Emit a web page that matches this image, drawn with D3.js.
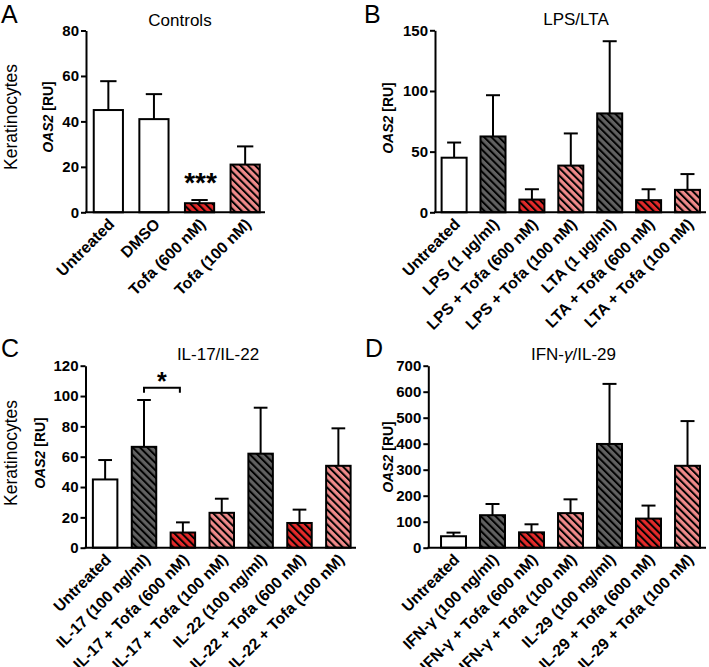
<!DOCTYPE html>
<html><head><meta charset="utf-8">
<script src="https://cdn.jsdelivr.net/npm/d3@7"></script>
<style>
html,body{margin:0;padding:0;background:#fff;}
text{font-family:"Liberation Sans",Arial,Helvetica,sans-serif;}
</style></head>
<body>
<svg id="chart" width="709" height="667"></svg>
<script>
// ---------- data ----------
const catsA = ["Untreated","DMSO","Tofa (600 nM)","Tofa (100 nM)"];
const meanA = [45, 41, 4, 21];
const errA  = [12.7, 11, 1.4, 8];
const typeA = ["white","white","red","pink"];
const ticksA = [0,20,40,60,80];

const catsB = ["Untreated","LPS (1 µg/ml)","LPS + Tofa (600 nM)","LPS + Tofa (100 nM)","LTA (1 µg/ml)","LTA + Tofa (600 nM)","LTA + Tofa (100 nM)"];
const meanB = [45, 62.5, 10.5, 38.5, 81.5, 10, 18.5];
const errB  = [12.5, 34, 8.5, 26.5, 59.5, 9, 13];
const typeB = ["white","dark","red","pink","dark","red","pink"];
const ticksB = [0,50,100,150];

const catsC = ["Untreated","IL-17 (100 ng/ml)","IL-17 + Tofa (600 nM)","IL-17 + Tofa (100 nM)","IL-22 (100 ng/ml)","IL-22 + Tofa (600 nM)","IL-22 + Tofa (100 nM)"];
const meanC = [45, 66.5, 10, 23, 62, 16.3, 54];
const errC  = [12.8, 30.9, 6.7, 9.3, 30.3, 8.8, 24.7];
const typeC = ["white","dark","red","pink","dark","red","pink"];
const ticksC = [0,20,40,60,80,100,120];

const catsD = ["Untreated","IFN-γ (100 ng/ml)","IFN-γ + Tofa (600 nM)","IFN-γ + Tofa (100 nM)","IL-29 (100 ng/ml)","IL-29 + Tofa (600 nM)","IL-29 + Tofa (100 nM)"];
const meanD = [44, 125, 59, 133, 399, 112, 315];
const errD  = [14, 43, 31, 53, 231, 50, 172];
const typeD = ["white","dark","red","pink","dark","red","pink"];
const ticksD = [0,100,200,300,400,500,600,700];

const fillColors = {white:"#ffffff", dark:"#616161", red:"#e42a2a", pink:"#f08a8a"};

// ---------- drawing ----------
const svg = d3.select("#chart");
const defs = svg.append("defs");
["dark","red","pink"].forEach(k=>{
  const p = defs.append("pattern").attr("id","hatch-"+k)
    .attr("patternUnits","userSpaceOnUse").attr("width",5.2).attr("height",5.2)
    .attr("patternTransform","rotate(-45)");
  p.append("rect").attr("width",5.2).attr("height",5.2).attr("fill",fillColors[k]);
  p.append("line").attr("x1",1).attr("y1",0).attr("x2",1).attr("y2",5.2)
    .attr("stroke","#000").attr("stroke-width",2);
});
const fillFor = t => t==="white" ? "#fff" : "url(#hatch-"+t+")";

function panel(cfg){
  const g = svg.append("g");
  const y = d3.scaleLinear().domain([0, cfg.ticks[cfg.ticks.length-1]]).range([cfg.y0, cfg.yTop]);
  const x = d3.scaleBand().domain(cfg.cats).range([cfg.ax, cfg.xEnd])
    .paddingInner(cfg.pin).paddingOuter(cfg.pout).align(cfg.align);
  const bw = x.bandwidth();

  cfg.cats.forEach((c,i)=>{
    const cx = x(c)+bw/2;
    const top = y(cfg.mean[i]+cfg.err[i]);
    g.append("line").attr("x1",cx).attr("x2",cx)
      .attr("y1",y(cfg.mean[i])).attr("y2",top)
      .attr("stroke","#000").attr("stroke-width",2);
    g.append("line").attr("x1",cx-bw*0.28).attr("x2",cx+bw*0.28)
      .attr("y1",top).attr("y2",top)
      .attr("stroke","#000").attr("stroke-width",2);
    g.append("rect").attr("x",x(c)).attr("width",bw)
      .attr("y",y(cfg.mean[i])).attr("height",cfg.y0-y(cfg.mean[i]))
      .attr("fill",fillFor(cfg.types[i])).attr("stroke","#000").attr("stroke-width",2);
    g.append("text").attr("transform",`translate(${cx+3},${cfg.y0+9}) rotate(-45)`)
      .attr("text-anchor","end").attr("dy","0.35em")
      .attr("font-size",15.8).attr("font-weight","bold").text(c);
  });

  g.append("line").attr("x1",cfg.ax-1).attr("x2",cfg.xAxisEnd)
    .attr("y1",cfg.y0).attr("y2",cfg.y0).attr("stroke","#000").attr("stroke-width",2);

  const ya = g.append("g").attr("transform",`translate(${cfg.ax},0)`)
    .call(d3.axisLeft(y).tickValues(cfg.ticks).tickSize(5).tickSizeOuter(0).tickPadding(2));
  ya.select(".domain").attr("stroke-width",2);
  ya.selectAll(".tick line").attr("stroke-width",2);
  ya.selectAll(".tick text").attr("font-size",15).attr("font-weight","bold")
    .attr("font-family","Liberation Sans, Arial, sans-serif");

  g.append("text").attr("x",cfg.titleX).attr("y",cfg.titleY).attr("text-anchor","middle")
    .attr("font-size",17).html(cfg.title);
  g.append("text").attr("x",cfg.letterX).attr("y",cfg.letterY)
    .attr("font-size",25).text(cfg.letter);
  const yl = g.append("text").attr("transform",`translate(${cfg.ylabX},${cfg.ylabY}) rotate(-90)`)
    .attr("text-anchor","middle").attr("font-size",14).attr("font-weight","bold");
  yl.append("tspan").attr("font-style","italic").text("OAS2");
  yl.append("tspan").text(" [RU]");
  if(cfg.kerat){
    g.append("text").attr("transform",`translate(17,${cfg.ylabY}) rotate(-90)`)
      .attr("text-anchor","middle").attr("font-size",17.5).text("Keratinocytes");
  }
  return {g,x,y,bw};
}

const pA = panel({cats:catsA, mean:meanA, err:errA, types:typeA, ticks:ticksA,
  ax:86, y0:212.3, yTop:30.5, xEnd:267.5, xAxisEnd:265, pin:0.36, pout:0.17, align:0.5,
  title:"Controls", titleX:180, titleY:26, letter:"A", letterX:1, letterY:23,
  ylabX:53, ylabY:117, kerat:true});
const pB = panel({cats:catsB, mean:meanB, err:errB, types:typeB, ticks:ticksB,
  ax:435, y0:212.3, yTop:30.3, xEnd:706.6, xAxisEnd:706, pin:0.357, pout:0.17, align:0.5,
  title:"LPS/LTA", titleX:576, titleY:25, letter:"B", letterX:364, letterY:23,
  ylabX:393, ylabY:118, kerat:false});
const pC = panel({cats:catsC, mean:meanC, err:errC, types:typeC, ticks:ticksC,
  ax:85.5, y0:547.7, yTop:365.7, xEnd:358, xAxisEnd:356, pin:0.37, pout:0.19, align:0.5,
  title:"IL-17/IL-22", titleX:218, titleY:360, letter:"C", letterX:1, letterY:357,
  ylabX:45, ylabY:453, kerat:true});
const pD = panel({cats:catsD, mean:meanD, err:errD, types:typeD, ticks:ticksD,
  ax:428.3, y0:547.7, yTop:365.7, xEnd:707, xAxisEnd:706, pin:0.36, pout:0.253, align:0.645,
  title:"IFN-<tspan font-style='italic'>γ</tspan>/IL-29", titleX:573.5, titleY:360, letter:"D", letterX:365, letterY:357,
  ylabX:393, ylabY:457, kerat:false});

// significance marks
{
  const c = pA.x(catsA[2]) + pA.bw/2;
  pA.g.append("text").attr("x",c+1).attr("y",pA.y(meanA[2]+errA[2])-8)
    .attr("text-anchor","middle").attr("font-size",28).attr("font-weight","bold").text("***");
}
{
  const c1 = pC.x(catsC[1]) + pC.bw/2, c2 = pC.x(catsC[2]) + pC.bw/2 - 3;
  const yb = pC.y(meanC[1]+errC[1]) - 12.3;
  pC.g.append("path").attr("d",`M${c1},${yb+5}V${yb}H${c2}V${yb+5}`)
    .attr("fill","none").attr("stroke","#000").attr("stroke-width",2);
  pC.g.append("text").attr("x",(c1+c2)/2).attr("y",yb+2.3).attr("text-anchor","middle")
    .attr("font-size",25).attr("font-weight","bold").text("*");
}
</script>
</body></html>
